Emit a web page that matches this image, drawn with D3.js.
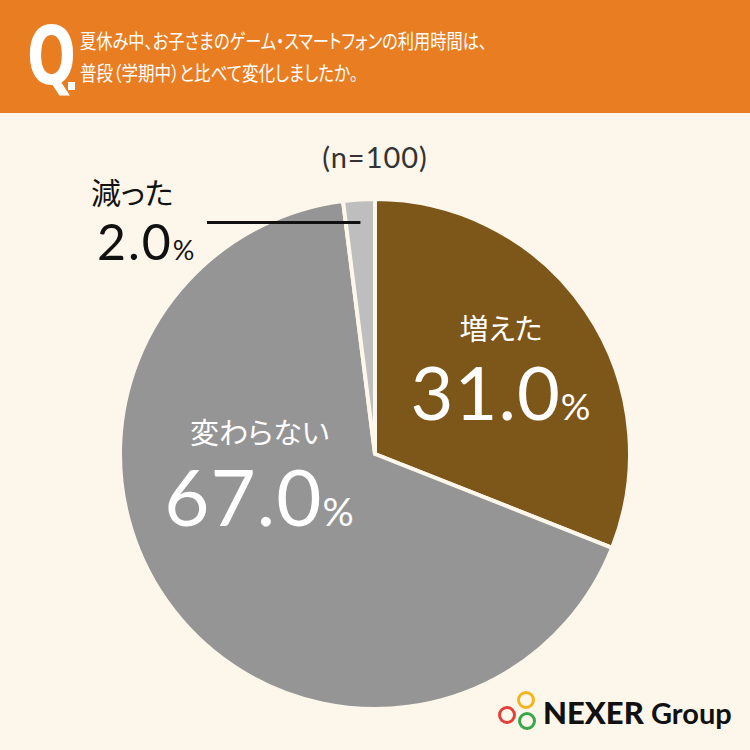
<!DOCTYPE html>
<html>
<head>
<meta charset="utf-8">
<script src="https://cdn.jsdelivr.net/npm/d3@7"></script>
<style>
	html, body { margin: 0; padding: 0; background: #fdf7eb; }
	svg { display: block; }
	.jp { font-family: 'Noto Sans CJK JP', 'Noto Sans', sans-serif; font-feature-settings: 'palt'; }
	.num { font-family: Lato, 'Noto Sans', sans-serif; }
</style>
</head>
<body>
<div id="chart"></div>
<script>
// data
const categories = ['増えた', '変わらない', '減った'];
const values = [31.0, 67.0, 2.0];
const sampleLabel = '(n=100)';
const questionLines = [
	'夏休み中、お子さまのゲーム・スマートフォンの利用時間は、',
	'普段（学期中）と比べて変化しましたか。'
];
const colors = ['#7d5619', '#959595', '#bebebe'];

(() => {
	const width = 750;
	const height = 750;
	const bg = '#fdf7eb';

	const svg = d3.select('#chart').append('svg')
		.attr('width', width)
		.attr('height', height);

	svg.append('rect')
		.attr('width', width)
		.attr('height', height)
		.attr('fill', bg);

	// header band
	svg.append('rect')
		.attr('width', width)
		.attr('height', 113)
		.attr('fill', '#e87d22');
	svg.append('text')
		.attr('transform', 'translate(27, 84) scale(0.72, 1)')
		.attr('font-family', 'DejaVu Sans, sans-serif')
		.attr('font-size', 80)
		.attr('font-weight', 'bold')
		.attr('fill', '#fff')
		.text('Q');
	svg.append('rect')
		.attr('x', 68)
		.attr('y', 82)
		.attr('width', 7)
		.attr('height', 8)
		.attr('fill', '#fff');
	const questionWidths = [407, 278];
	svg.selectAll('.question')
		.data(questionLines)
		.enter().append('text')
			.attr('class', 'question jp')
			.attr('x', 80)
			.attr('y', (d, i) => 49 + i * 32)
			.attr('font-size', 20)
			.attr('textLength', (d, i) => questionWidths[i])
			.attr('lengthAdjust', 'spacingAndGlyphs')
			.attr('fill', '#fff')
			.text(d => d);

	// sample size
	svg.append('text')
		.attr('class', 'num')
		.attr('x', 375)
		.attr('y', 168)
		.attr('text-anchor', 'middle')
		.attr('font-size', 29)
		.attr('letter-spacing', 1)
		.attr('fill', '#333')
		.text(sampleLabel);

	// pie
	const cx = 375;
	const cy = 454;
	const radius = 255;
	const chart = svg.append('g')
		.attr('transform', `translate(${cx}, ${cy})`);

	const pie = d3.pie().sort(null).value(d => d.value);
	const arcs = pie(categories.map((c, i) => ({ name: c, value: values[i], color: colors[i] })));
	const arc = d3.arc().innerRadius(0).outerRadius(radius);

	chart.selectAll('.slice')
		.data(arcs)
		.enter().append('path')
			.attr('class', 'slice')
			.attr('d', arc)
			.attr('fill', d => d.data.color)
			.attr('stroke', bg)
			.attr('stroke-width', 4)
			.attr('stroke-linejoin', 'round');

	// labels inside the big slices
	const labelArc = d3.arc().innerRadius(0).outerRadius(2 * 150);
	const labelShift = [[2, 8], [3, -64]];
	const inside = chart.selectAll('.inside-label')
		.data(arcs.slice(0, 2))
		.enter().append('g')
			.attr('class', 'inside-label')
			.attr('transform', (d, i) => {
				const [x, y] = labelArc.centroid(d);
				return `translate(${x + labelShift[i][0]}, ${y + labelShift[i][1]})`;
			});
	const insideSmall = [29, 29];
	const insideBig = [74, 78];
	inside.append('text')
		.attr('class', 'jp')
		.attr('y', -38)
		.attr('text-anchor', 'middle')
		.attr('font-size', (d, i) => insideSmall[i])
		.attr('fill', '#fff')
		.text(d => d.data.name);
	const insideNum = inside.append('text')
		.attr('class', 'num')
		.attr('y', (d, i) => 42 + i * 2)
		.attr('text-anchor', 'middle')
		.attr('letter-spacing', 1)
		.attr('fill', '#fff');
	insideNum.append('tspan')
		.attr('font-size', (d, i) => insideBig[i])
		.text(d => d.data.value.toFixed(1));
	insideNum.append('tspan')
		.attr('font-size', (d, i) => insideBig[i] / 2)
		.text('%');

	// outside label for the small slice
	const small = arcs[2];
	const pointArc = d3.arc().innerRadius(0).outerRadius(2 * 232);
	const [px, py] = pointArc.centroid(small);
	chart.append('line')
		.attr('x1', px)
		.attr('y1', py)
		.attr('x2', 207 - cx)
		.attr('y2', py)
		.attr('stroke', '#111')
		.attr('stroke-width', 3);
	chart.append('text')
		.attr('class', 'jp')
		.attr('x', 91 - cx)
		.attr('y', 204 - cy)
		.attr('font-size', 30)
		.attr('fill', '#111')
		.text(small.data.name);
	const smallNum = chart.append('text')
		.attr('class', 'num')
		.attr('x', 97 - cx)
		.attr('y', 260 - cy)
		.attr('letter-spacing', 2)
		.attr('fill', '#111');
	smallNum.append('tspan')
		.attr('font-size', 50)
		.text(small.data.value.toFixed(1));
	smallNum.append('tspan')
		.attr('font-size', 27)
		.text('%');

	// logo
	const logo = svg.append('g');
	const rings = [
		{ x: 526, y: 700, c: '#f2b61c' },
		{ x: 507, y: 715, c: '#e2403a' },
		{ x: 527, y: 721, c: '#3aa64a' }
	];
	logo.selectAll('circle')
		.data(rings)
		.enter().append('circle')
			.attr('cx', d => d.x)
			.attr('cy', d => d.y)
			.attr('r', 7.5)
			.attr('fill', 'none')
			.attr('stroke', d => d.c)
			.attr('stroke-width', 3);
	logo.append('text')
		.attr('x', 543)
		.attr('y', 724)
		.attr('font-family', 'Lato, sans-serif')
		.attr('font-weight', 900)
		.attr('font-size', 31)
		.attr('fill', '#111')
		.text('NEXER');
	logo.append('text')
		.attr('x', 651)
		.attr('y', 724)
		.attr('font-family', 'Lato, sans-serif')
		.attr('font-weight', 700)
		.attr('font-size', 29)
		.attr('fill', '#111')
		.text('Group');
})();
</script>
</body>
</html>
